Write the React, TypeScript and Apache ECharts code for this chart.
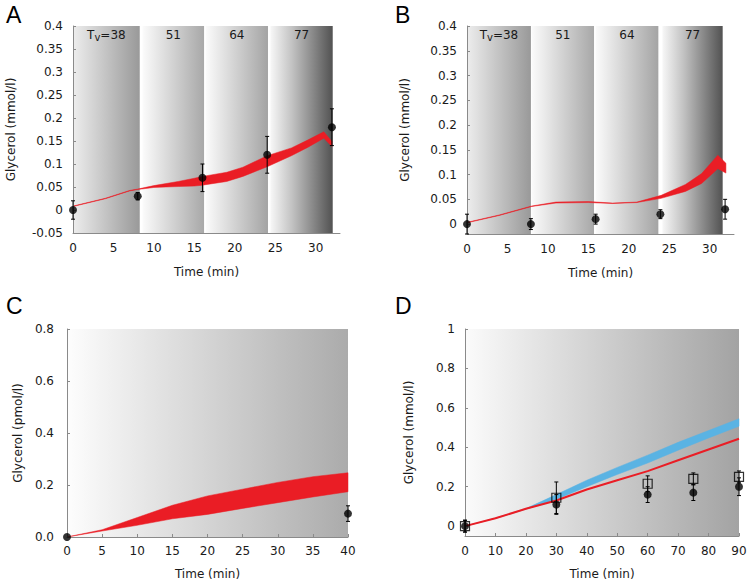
import React, { useEffect, useRef } from 'react';
import * as echarts from 'echarts';

// ---------- Panel A ----------
const aTime = [0, 4, 7, 8, 10, 13, 15, 16, 19, 21, 24, 27, 29, 31, 32];
const aUpper = [0.0085, 0.0255, 0.0425, 0.0455, 0.053, 0.062, 0.069, 0.073, 0.082, 0.093, 0.118, 0.135, 0.152, 0.17, 0.149];
const aLower = [0.0075, 0.0245, 0.0415, 0.0445, 0.049, 0.051, 0.052, 0.054, 0.062, 0.073, 0.094, 0.118, 0.136, 0.156, 0.138];
const aPointTime = [0, 8, 16, 24, 32];
const aPointValue = [0, 0.03, 0.07, 0.12, 0.18];
const aPointError = [0.02, 0.008, 0.03, 0.04, 0.04];
const aBandStart = [0, 8.6, 16.4, 24.4];
const aBandEnd = [8.25, 16.2, 24.1, 32.1];
const aBandTv = ['38', '51', '64', '77'];

// ---------- Panel B ----------
const bTime = [0, 4, 8, 11, 15, 18, 21, 24, 27, 29, 31, 32];
const bUpper = [0.0035, 0.0185, 0.0365, 0.0445, 0.0455, 0.0425, 0.0445, 0.058, 0.08, 0.102, 0.139, 0.123];
const bLower = [0.0025, 0.0175, 0.0355, 0.0425, 0.0435, 0.0415, 0.0435, 0.052, 0.066, 0.082, 0.112, 0.103];
const bPointTime = [0, 7.9, 15.9, 23.9, 31.9];
const bPointValue = [0, 0, 0.01, 0.02, 0.03];
const bPointError = [0.02, 0.011, 0.01, 0.009, 0.02];
const bBandStart = [0, 8.0, 15.9, 24.15];
const bBandEnd = [7.9, 15.7, 23.65, 31.6];
const bBandTv = ['38', '51', '64', '77'];

// ---------- Panel C ----------
const cTime = [0, 5, 10, 15, 20, 25, 30, 35, 40];
const cUpper = [0, 0.028, 0.075, 0.122, 0.158, 0.184, 0.21, 0.232, 0.247];
const cLower = [0, 0.023, 0.045, 0.07, 0.087, 0.11, 0.132, 0.154, 0.174];
const cPointTime = [0, 40];
const cPointValue = [0, 0.09];
const cPointError = [0, 0.03];

// ---------- Panel D ----------
const dTime = [0, 10, 20, 30, 40, 50, 60, 70, 80, 90];
const dBlueUpper = [0, 0.041, 0.089, 0.16, 0.233, 0.298, 0.36, 0.425, 0.485, 0.545];
const dBlueLower = [0, 0.039, 0.086, 0.135, 0.2, 0.262, 0.32, 0.385, 0.447, 0.507];
const dRed = [0, 0.04, 0.088, 0.13, 0.186, 0.233, 0.279, 0.334, 0.389, 0.443];
const dCircleTime = [0, 30, 60, 75, 90];
const dCircleValue = [0, 0.11, 0.16, 0.17, 0.2];
const dCircleError = [0.03, 0.05, 0.04, 0.04, 0.045];
const dSquareTime = [0, 30, 60, 75, 90];
const dSquareValue = [0, 0.144, 0.215, 0.24, 0.25];
const dSquareError = [0.03, 0.08, 0.04, 0.03, 0.03];

// ---------- ticks ----------
const abXTicks = [0, 5, 10, 15, 20, 25, 30];
const bYTicks = [0, 0.05, 0.1, 0.15, 0.2, 0.25, 0.3, 0.35, 0.4];
const dYTicks = [0, 0.2, 0.4, 0.6, 0.8, 1];

const FONT = 'DejaVu Sans';
const TXT = '#1a1a1a';
const AXIS = '#8a8a8a';
const RED = '#ea1d25';
const BLUE = '#5ab3e3';

const grad = (stops: [number, string][]) =>
  new echarts.graphic.LinearGradient(0, 0, 1, 0, stops.map(([offset, color]) => ({ offset, color })));

const bandGradients = [
  grad([[0, '#ededed'], [1, '#999999']]),
  grad([[0, '#fbfbfb'], [1, '#a8a8a8']]),
  grad([[0, '#fbfbfb'], [1, '#a4a4a4']]),
  grad([[0, '#f7f7f7'], [0.35, '#c2c2c2'], [1, '#525252']]),
];

function renderErr(_params: any, api: any) {
  const x = api.value(0);
  const y = api.value(1);
  const e = api.value(2);
  if (!e) return null;
  const hi = api.coord([x, y + e]);
  const lo = api.coord([x, y - e]);
  const cap = 2;
  const style = { stroke: '#000', lineWidth: 1 };
  return {
    type: 'group',
    children: [
      { type: 'line', shape: { x1: hi[0], y1: hi[1], x2: lo[0], y2: lo[1] }, style },
      { type: 'line', shape: { x1: hi[0] - cap, y1: hi[1], x2: hi[0] + cap, y2: hi[1] }, style },
      { type: 'line', shape: { x1: lo[0] - cap, y1: lo[1], x2: lo[0] + cap, y2: lo[1] }, style },
    ],
  };
}

// Band drawn as one polygon through the axis scales (api.coord).
function band(idx: number, time: number[], upper: number[], lower: number[], color: string, markArea?: any) {
  const series: any[] = [
    {
      type: 'custom', xAxisIndex: idx, yAxisIndex: idx, z: 3, silent: true,
      encode: { x: 0, y: [1, 2] },
      data: time.map((t, i) => [t, lower[i], upper[i]]),
      renderItem: (params: any, api: any) => {
        if (params.dataIndex !== 0) return null;
        const top = time.map((t, i) => api.coord([t, upper[i]]));
        const bottom = time.map((t, i) => api.coord([t, lower[i]])).reverse();
        return {
          type: 'polygon',
          shape: { points: top.concat(bottom) },
          style: { fill: color, stroke: color, lineWidth: 0.5 },
        };
      },
    },
  ];
  if (markArea) {
    series.push({
      type: 'line', xAxisIndex: idx, yAxisIndex: idx, symbol: 'none', silent: true, z: 1,
      data: time.map((t, i) => [t, lower[i]]),
      lineStyle: { opacity: 0 },
      markArea,
    });
  }
  return series;
}

function errSeries(idx: number, time: number[], value: number[], err: number[]) {
  return {
    type: 'custom', xAxisIndex: idx, yAxisIndex: idx, z: 9, silent: true,
    renderItem: renderErr,
    encode: { x: 0, y: 1 },
    data: time.map((t, i) => [t, value[i], err[i]]),
  };
}

function pointSeries(idx: number, time: number[], value: number[], symbol = 'circle', open = false) {
  return {
    type: 'scatter', xAxisIndex: idx, yAxisIndex: idx, z: 10, silent: true,
    symbol, symbolSize: open ? 9 : 8,
    itemStyle: open
      ? { color: 'rgba(0,0,0,0)', borderColor: '#000', borderWidth: 1.2 }
      : { color: '#000' },
    data: time.map((t, i) => [t, value[i]]),
  };
}

function tvMarkArea(starts: number[], ends: number[], tv: string[]) {
  return {
    silent: true,
    data: starts.map((s, i) => [
      {
        xAxis: s,
        itemStyle: { color: bandGradients[i] },
        label: {
          show: true,
          position: 'insideTop',
          distance: 1,
          formatter: i === 0 ? `{t|T}{s|v}{t|=${tv[i]}}` : `{t|${tv[i]}}`,
          rich: {
            t: { fontSize: 12, lineHeight: 15, fontFamily: FONT, color: TXT },
            s: { fontSize: 10, lineHeight: 11, verticalAlign: 'bottom', fontFamily: FONT, color: TXT },
          },
        },
      },
      { xAxis: ends[i] },
    ]),
  };
}

function fullMarkArea(start: number, end: number, left: string, right: string) {
  return {
    silent: true,
    label: { show: false },
    data: [[{ xAxis: start, itemStyle: { color: grad([[0, left], [1, right]]) } }, { xAxis: end }]],
  };
}

const labelStyle = { color: TXT, fontSize: 12, fontFamily: FONT };
const nameStyle = { color: TXT, fontSize: 12, fontFamily: FONT };

function xAxisCfg(idx: number, min: number, max: number, extra: any) {
  return {
    type: 'value', gridIndex: idx, min, max, z: 5,
    name: 'Time (min)', nameLocation: 'middle', nameTextStyle: nameStyle,
    axisLine: { show: true, onZero: false, lineStyle: { color: AXIS, width: 1 } },
    splitLine: { show: false },
    ...extra,
  };
}

function yAxisCfg(idx: number, min: number, max: number, name: string, extra: any) {
  return {
    type: 'value', gridIndex: idx, min, max, z: 5,
    name, nameLocation: 'middle', nameTextStyle: nameStyle,
    axisLine: { show: true, onZero: false, lineStyle: { color: AXIS, width: 1 } },
    axisTick: { show: true, inside: true, length: 3, lineStyle: { color: AXIS } },
    splitLine: { show: false },
    ...extra,
  };
}

export default function App() {
  const ref = useRef<HTMLDivElement>(null);

  useEffect(() => {
    if (!ref.current) return;
    const chart = echarts.init(ref.current, undefined, { renderer: 'svg' });

    const option: any = {
      animation: false,
      backgroundColor: '#ffffff',
      textStyle: { fontFamily: FONT },
      grid: [
        { left: 73, top: 26, width: 267, height: 207, outerBoundsMode: 'none' },
        { left: 467, top: 26, width: 267, height: 208, outerBoundsMode: 'none' },
        { left: 67, top: 329, width: 281, height: 208, outerBoundsMode: 'none' },
        { left: 465, top: 329, width: 274, height: 207, outerBoundsMode: 'none' },
      ],
      xAxis: [
        xAxisCfg(0, 0, 33, {
          nameGap: 33,
          axisTick: { show: false },
          axisLabel: { ...labelStyle, margin: 9, customValues: abXTicks },
        }),
        xAxisCfg(1, 0, 33, {
          nameGap: 33,
          axisTick: { show: false },
          axisLabel: { ...labelStyle, margin: 9, customValues: abXTicks },
        }),
        xAxisCfg(2, 0, 40, {
          interval: 5, nameGap: 31,
          axisTick: { show: true, inside: true, length: 3, lineStyle: { color: AXIS } },
          axisLabel: { ...labelStyle, margin: 8 },
        }),
        xAxisCfg(3, 0, 90, {
          interval: 10, nameGap: 32,
          axisTick: { show: true, inside: true, length: 3, lineStyle: { color: AXIS } },
          axisLabel: { ...labelStyle, margin: 9 },
        }),
      ],
      yAxis: [
        yAxisCfg(0, -0.05, 0.4, 'Glycerol (mmol/l)', {
          interval: 0.05, nameGap: 56,
          axisLabel: { ...labelStyle, margin: 10 },
        }),
        yAxisCfg(1, -0.02, 0.4, 'Glycerol (mmol/l)', {
          nameGap: 56,
          axisLabel: { ...labelStyle, margin: 10, customValues: bYTicks },
          axisTick: { show: true, inside: true, length: 3, lineStyle: { color: AXIS }, customValues: bYTicks },
        }),
        yAxisCfg(2, 0, 0.8, 'Glycerol (pmol/l)', {
          interval: 0.2, nameGap: 43,
          axisLabel: { ...labelStyle, margin: 13, formatter: (v: number) => v.toFixed(1) },
        }),
        yAxisCfg(3, -0.05, 1, 'Glycerol (mmol/l)', {
          nameGap: 50,
          axisLabel: { ...labelStyle, margin: 10, customValues: dYTicks },
          axisTick: { show: true, inside: true, length: 3, lineStyle: { color: AXIS }, customValues: dYTicks },
        }),
      ],
      graphic: [
        { type: 'text', x: 6, y: 3, style: { text: 'A', fontSize: 23, fontFamily: 'Liberation Sans', fill: '#000' } },
        { type: 'text', x: 395, y: 3, style: { text: 'B', fontSize: 23, fontFamily: 'Liberation Sans', fill: '#000' } },
        { type: 'text', x: 6, y: 294, style: { text: 'C', fontSize: 23, fontFamily: 'Liberation Sans', fill: '#000' } },
        { type: 'text', x: 395, y: 294, style: { text: 'D', fontSize: 23, fontFamily: 'Liberation Sans', fill: '#000' } },
      ],
      series: [
        // A
        ...band(0, aTime, aUpper, aLower, RED, tvMarkArea(aBandStart, aBandEnd, aBandTv)),
        errSeries(0, aPointTime, aPointValue, aPointError),
        pointSeries(0, aPointTime, aPointValue),
        // B
        ...band(1, bTime, bUpper, bLower, RED, tvMarkArea(bBandStart, bBandEnd, bBandTv)),
        errSeries(1, bPointTime, bPointValue, bPointError),
        pointSeries(1, bPointTime, bPointValue),
        // C
        ...band(2, cTime, cUpper, cLower, RED, fullMarkArea(0, 40, '#fdfdfd', '#ababab')),
        errSeries(2, cPointTime, cPointValue, cPointError),
        pointSeries(2, cPointTime, cPointValue),
        // D
        ...band(3, dTime, dBlueUpper, dBlueLower, BLUE, fullMarkArea(0, 90, '#fbfbfb', '#a3a3a3')),
        {
          type: 'line', xAxisIndex: 3, yAxisIndex: 3, symbol: 'none', silent: true, z: 4,
          data: dTime.map((t, i) => [t, dRed[i]]),
          lineStyle: { width: 2, color: RED },
        },
        errSeries(3, dSquareTime, dSquareValue, dSquareError),
        errSeries(3, dCircleTime, dCircleValue, dCircleError),
        pointSeries(3, dCircleTime, dCircleValue),
        pointSeries(3, dSquareTime, dSquareValue, 'rect', true),
      ],
    };

    chart.setOption(option);
    return () => chart.dispose();
  }, []);

  return (
    <div
      ref={ref}
      style={{ position: 'absolute', left: 0, top: 0, width: 750, height: 587 }}
    />
  );
}
